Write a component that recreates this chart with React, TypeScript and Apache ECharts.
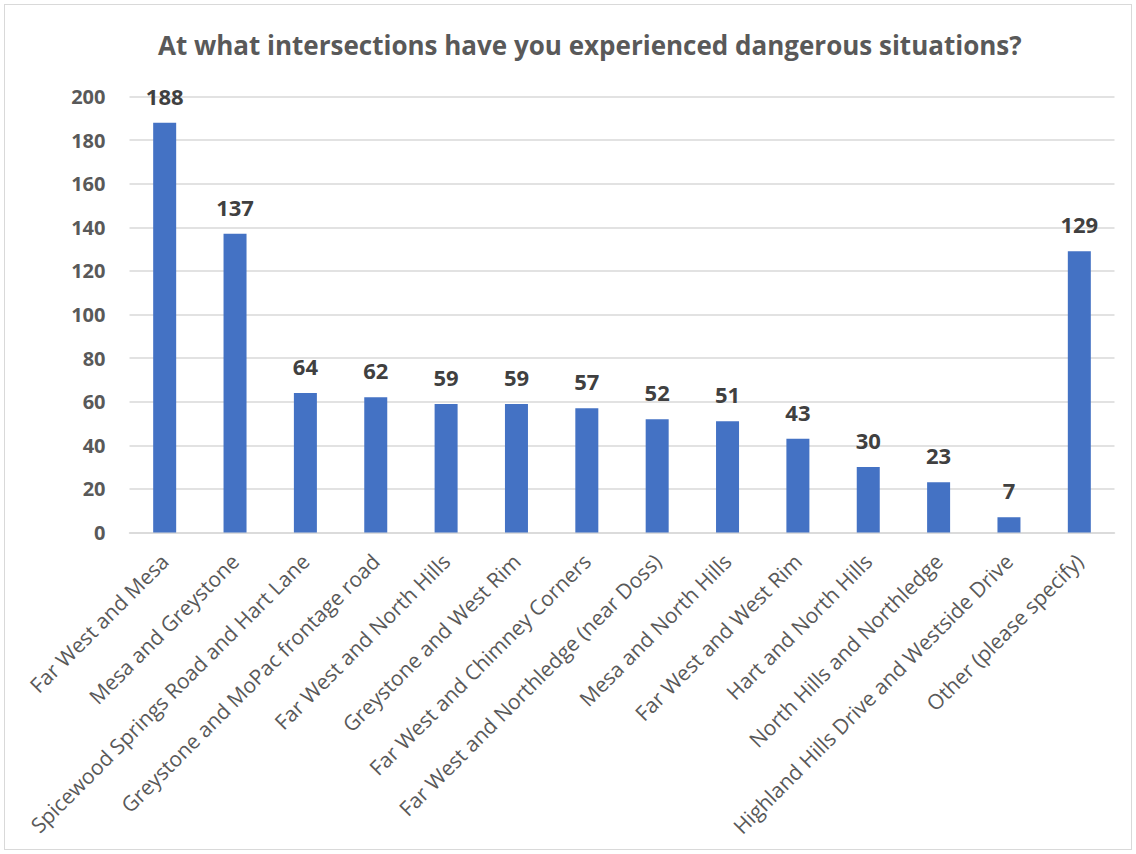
import React, { useEffect, useRef } from "react";
import * as echarts from "echarts";

const titleText = "At what intersections have you experienced dangerous situations?";
const categories = [
  "Far West and Mesa",
  "Mesa and Greystone",
  "Spicewood Springs Road and Hart Lane",
  "Greystone and MoPac frontage road",
  "Far West and North Hills",
  "Greystone and West Rim",
  "Far West and Chimney Corners",
  "Far West and Northledge (near Doss)",
  "Mesa and North Hills",
  "Far West and West Rim",
  "Hart and North Hills",
  "North Hills and Northledge",
  "Highland Hills Drive and Westside Drive",
  "Other (please specify)",
];
const values = [188, 137, 64, 62, 59, 59, 57, 52, 51, 43, 30, 23, 7, 129];

export default function App() {
  const ref = useRef<HTMLDivElement>(null);
  useEffect(() => {
    document.body.style.margin = "0";
    const chart = echarts.init(ref.current!, null, { renderer: "svg" });
    const font = "'Open Sans', 'Noto Sans', sans-serif";
    chart.setOption({
      animation: false,
      backgroundColor: "#ffffff",
      title: {
        text: titleText,
        left: 148,
        top: 22,
        textStyle: { fontFamily: font, fontSize: 26, fontWeight: "bold", color: "#595959" },
      },
      grid: { left: 124.5, right: 15.5, top: 91.5, bottom: 315.5, containLabel: false },
      xAxis: {
        type: "category",
        data: categories,
        axisLine: { lineStyle: { color: "#d9d9d9", width: 1.5 } },
        axisTick: { show: false },
        axisLabel: {
          rotate: 45,
          interval: 0,
          fontFamily: font,
          fontSize: 21,
          color: "#595959",
          margin: 25,
        },
      },
      yAxis: {
        type: "value",
        min: 0,
        max: 200,
        interval: 20,
        axisLine: { show: false },
        axisTick: { show: false },
        splitLine: { lineStyle: { color: "#d9d9d9", width: 1.5 } },
        axisLabel: {
          fontFamily: font,
          fontSize: 20,
          fontWeight: "bold",
          color: "#595959",
          margin: 24,
        },
      },
      series: [
        {
          type: "bar",
          data: values,
          barWidth: 23,
          itemStyle: { color: "#4472C4" },
          label: {
            show: true,
            position: "top",
            distance: 16,
            fontFamily: font,
            fontSize: 22,
            fontWeight: "bold",
            color: "#404040",
          },
        },
      ],
    });
    return () => chart.dispose();
  }, []);
  return (
    <div style={{ width: 1136, height: 854, boxSizing: "border-box", padding: 4, background: "#fff" }}>
      <div style={{ width: "100%", height: "100%", boxSizing: "border-box", border: "1.5px solid #d9d9d9" }}>
        <div ref={ref} style={{ width: 1125, height: 843 }} />
      </div>
    </div>
  );
}
